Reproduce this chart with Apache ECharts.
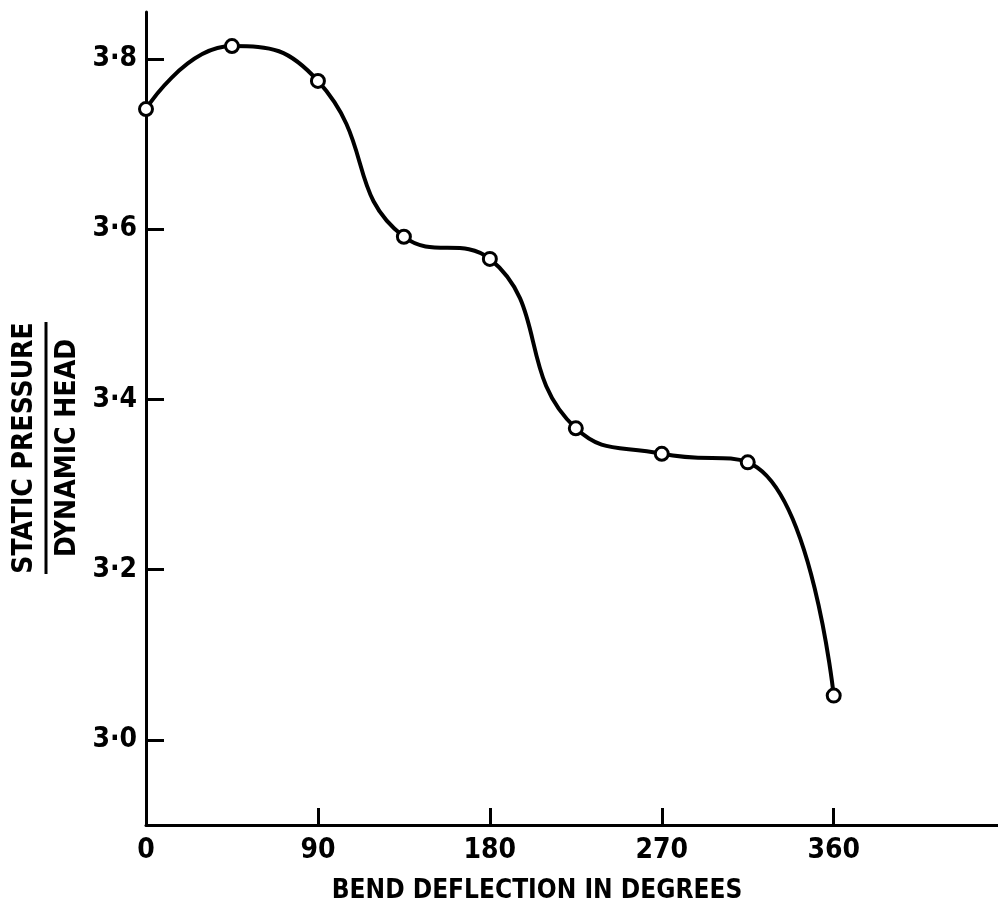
<!DOCTYPE html>
<html>
<head>
<meta charset="utf-8">
<script src="https://cdn.jsdelivr.net/npm/echarts@6/dist/echarts.min.js"></script>
<style>
  html, body { margin: 0; padding: 0; background: #fff; }
  #chart { width: 998px; height: 909px; }
</style>
</head>
<body>
<div id="chart"></div>
<script>
// Bend deflection (degrees) against static pressure / dynamic head
const deflection = [0, 45, 90, 135, 180, 225, 270, 315, 360];
const pressureRatio = [3.741, 3.815, 3.774, 3.591, 3.565, 3.366, 3.336, 3.326, 3.052];
const xTicks = [0, 90, 180, 270, 360];
const yTicks = [3.0, 3.2, 3.4, 3.6, 3.8];

const FONT = '"DejaVu Sans Condensed", "DejaVu Sans", sans-serif';
const INK = '#000';

const chart = echarts.init(document.getElementById('chart'), null, { renderer: 'canvas' });

chart.setOption({
  backgroundColor: '#fff',
  animation: false,
  grid: { left: 146, right: 0, top: 12, bottom: 82, containLabel: false },
  xAxis: {
    type: 'value',
    min: 0,
    max: 446,
    name: 'BEND DEFLECTION IN DEGREES',
    nameLocation: 'middle',
    nameGap: 53,
    nameTextStyle: {
      fontFamily: FONT, fontWeight: 'bold', fontSize: 26, color: INK,
      padding: [0, 70, 0, 0]
    },
    axisLine: { show: true, onZero: false, lineStyle: { color: INK, width: 3 } },
    axisTick: {
      show: true, inside: true, length: 17,
      customValues: xTicks,
      lineStyle: { color: INK, width: 3 }
    },
    axisLabel: {
      customValues: xTicks,
      margin: 12,
      fontFamily: FONT, fontWeight: 'bold', fontSize: 28, color: INK
    },
    splitLine: { show: false }
  },
  yAxis: {
    type: 'value',
    min: 2.9,
    max: 3.855,
    axisLine: { show: true, onZero: false, lineStyle: { color: INK, width: 3 } },
    axisTick: {
      show: true, inside: true, length: 18,
      customValues: yTicks,
      lineStyle: { color: INK, width: 3 }
    },
    axisLabel: {
      customValues: yTicks,
      margin: 9,
      fontFamily: FONT, fontWeight: 'bold', fontSize: 28, color: INK,
      formatter: v => v.toFixed(1).replace('.', '\u00b7')
    },
    splitLine: { show: false }
  },
  series: [{
    type: 'line',
    data: deflection.map((d, i) => [d, pressureRatio[i]]),
    smooth: 0.5,
    symbol: 'circle',
    symbolSize: 13,
    lineStyle: { color: INK, width: 4 },
    itemStyle: { color: '#fff', borderColor: INK, borderWidth: 3 },
    z: 3
  }],
  graphic: [{
    // Y-axis title drawn as a fraction, reading bottom to top
    type: 'group',
    x: 46,
    y: 448,
    rotation: Math.PI / 2,
    children: [
      {
        type: 'text',
        style: {
          text: 'STATIC PRESSURE', x: 0, y: -21,
          align: 'center', verticalAlign: 'middle',
          font: 'bold 28px ' + FONT, fill: INK
        }
      },
      {
        type: 'line',
        shape: { x1: -126, y1: 0, x2: 126, y2: 0 },
        style: { stroke: INK, lineWidth: 3 }
      },
      {
        type: 'text',
        style: {
          text: 'DYNAMIC HEAD', x: 0, y: 22,
          align: 'center', verticalAlign: 'middle',
          font: 'bold 28px ' + FONT, fill: INK
        }
      }
    ]
  }]
});
</script>
</body>
</html>
